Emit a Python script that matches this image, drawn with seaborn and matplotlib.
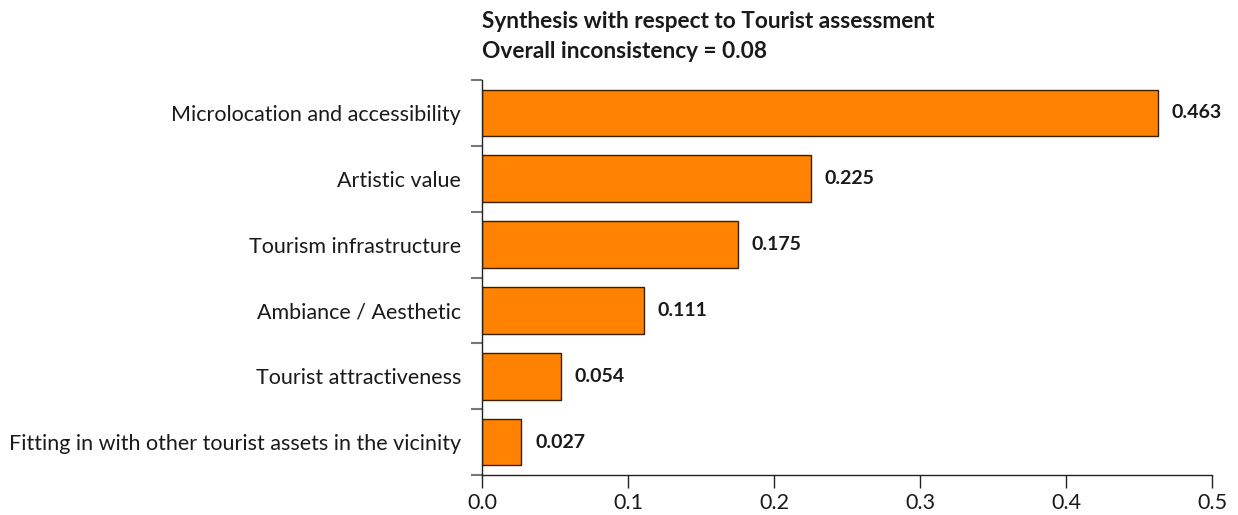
import matplotlib
matplotlib.use("Agg")
import matplotlib.pyplot as plt
import seaborn as sns
import pandas as pd
from matplotlib.ticker import FixedLocator

categories = [
    "Microlocation and accessibility",
    "Artistic value",
    "Tourism infrastructure",
    "Ambiance / Aesthetic",
    "Tourist attractiveness",
    "Fitting in with other tourist assets in the vicinity",
]
values = [0.463, 0.225, 0.175, 0.111, 0.054, 0.027]
value_labels = ["0.463", "0.225", "0.175", "0.111", "0.054", "0.027"]
xticks = [0.0, 0.1, 0.2, 0.3, 0.4, 0.5]
xtick_labels = ["0.0", "0.1", "0.2", "0.3", "0.4", "0.5"]
title_lines = ["Synthesis with respect to Tourist assessment", "Overall inconsistency = 0.08"]

sns.set_theme(style="white")
plt.rcParams['font.family'] = ['Lato', 'DejaVu Sans']

df = pd.DataFrame({"cat": categories, "val": values})

fig = plt.figure(figsize=(12.38, 5.15), dpi=100)
ax = fig.add_axes([482/1238, 1 - 475/515, (1212 - 482)/1238, (475 - 80)/515])

sns.barplot(data=df, y="cat", x="val", orient="h", color="#FF8200",
            saturation=1, edgecolor="#3a2000", linewidth=1.0, width=0.71, ax=ax)

ax.set_xlim(0, 0.5)
ax.set_ylim(5.5, -0.5)
ax.set_xlabel("")
ax.set_ylabel("")
ax.set_xticks(xticks)
ax.set_xticklabels(xtick_labels, fontsize=15.5, color="#1a1a1a")
ax.set_yticks(range(len(categories)))
ax.set_yticklabels(categories, fontsize=15.5, color="#1a1a1a")
ax.yaxis.set_minor_locator(FixedLocator([i - 0.5 for i in range(len(categories) + 1)]))
ax.tick_params(axis="y", which="major", length=0, pad=15)
ax.tick_params(axis="y", which="minor", length=8, width=1.5, color="#777777", left=True)
ax.tick_params(axis="x", which="major", length=9, width=1, color="#222222", bottom=True, pad=4)

for s in ["top", "right"]:
    ax.spines[s].set_visible(False)
for s in ["left", "bottom"]:
    ax.spines[s].set_color("#222222")
    ax.spines[s].set_linewidth(1)

for i, (v, lab) in enumerate(zip(values, value_labels)):
    ax.annotate(lab, xy=(v, i), xytext=(10, 0), textcoords="offset points",
                ha="left", va="center", fontsize=14, fontweight="bold", color="#1a1a1a")

fig.text(482/1238, 1 - 21/515, title_lines[0], fontsize=16.3, fontweight="bold",
         ha="left", va="center", color="#1a1a1a")
fig.text(482/1238, 1 - 51/515, title_lines[1], fontsize=16.3, fontweight="bold",
         ha="left", va="center", color="#1a1a1a")

fig.savefig("out.png", dpi=100)
